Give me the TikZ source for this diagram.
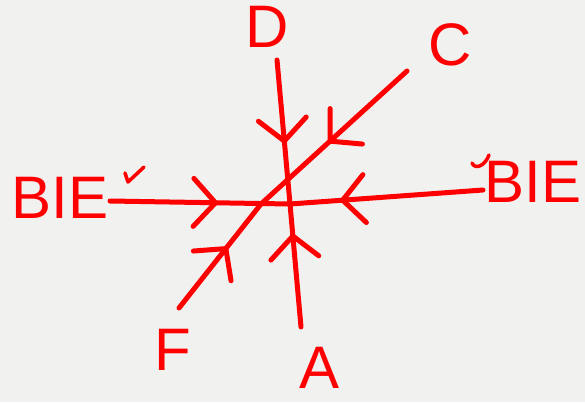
\documentclass[tikz,border=0pt]{standalone}
\usepackage{fontspec}
\setmainfont{Liberation Sans}
\usetikzlibrary{arrows.meta,decorations.markings}

\definecolor{sketchred}{RGB}{255,0,0}
\definecolor{paper}{RGB}{241,241,240}

\begin{document}
\begin{tikzpicture}[
      x=1pt, y=-1pt,
      lbl/.style={text=sketchred, font=\fontsize{60}{60}\selectfont, inner sep=0pt},
      ray/.style={color=sketchred, draw, line width=5pt, line cap=round,
        postaction={decorate},
        decoration={markings, mark=at position #1 with
          {\arrow{Straight Barb[length=22pt, width=48pt, line width=5pt, line cap=round, line join=round]}}}},
      tick/.style={draw=sketchred, line width=3.5pt, line cap=round, line join=round}
    ]
    \fill[paper] (0,0) rectangle (585,402);
    \useasboundingbox (0,0) rectangle (585,402);

    % labels
    \node[lbl] (D) at (267,27) {D};
    \node[lbl] (C) at (450,45) {C};
    \node[lbl] (BIEl) at (60,198) {BIE};
    \node[lbl] (BIEr) at (533,182) {BIE};
    \node[lbl] (F) at (173,350) {F};
    \node[lbl] (A) at (320,368) {A};

    % line ends and crossings
    \coordinate (O) at (290,204);
    \coordinate (X) at (261,204);
    \coordinate (eD) at (277,60);
    \coordinate (eA) at (301,327);
    \coordinate (eL) at (110,201);
    \coordinate (eR) at (483,190);
    \coordinate (eC) at (407,71);
    \coordinate (eF) at (179,308);

    \draw[ray=0.6] (eL) -- (O);
    \draw[ray=0.74] (eR) -- (O);
    \draw[ray=0.58] (eD) -- (O);
    \draw[ray=0.76] (eA) -- (O);
    \draw[ray=0.54] (eC) -- (X);
    \draw[ray=0.59] (eF) -- (X);

    % little marks by the labels
    \draw[tick] (125,173) -- (128,182) -- (144,167);
    \draw[tick] (472,163) .. controls (475,170) and (485,166) .. (489,155);
  \end{tikzpicture}
\end{document}
